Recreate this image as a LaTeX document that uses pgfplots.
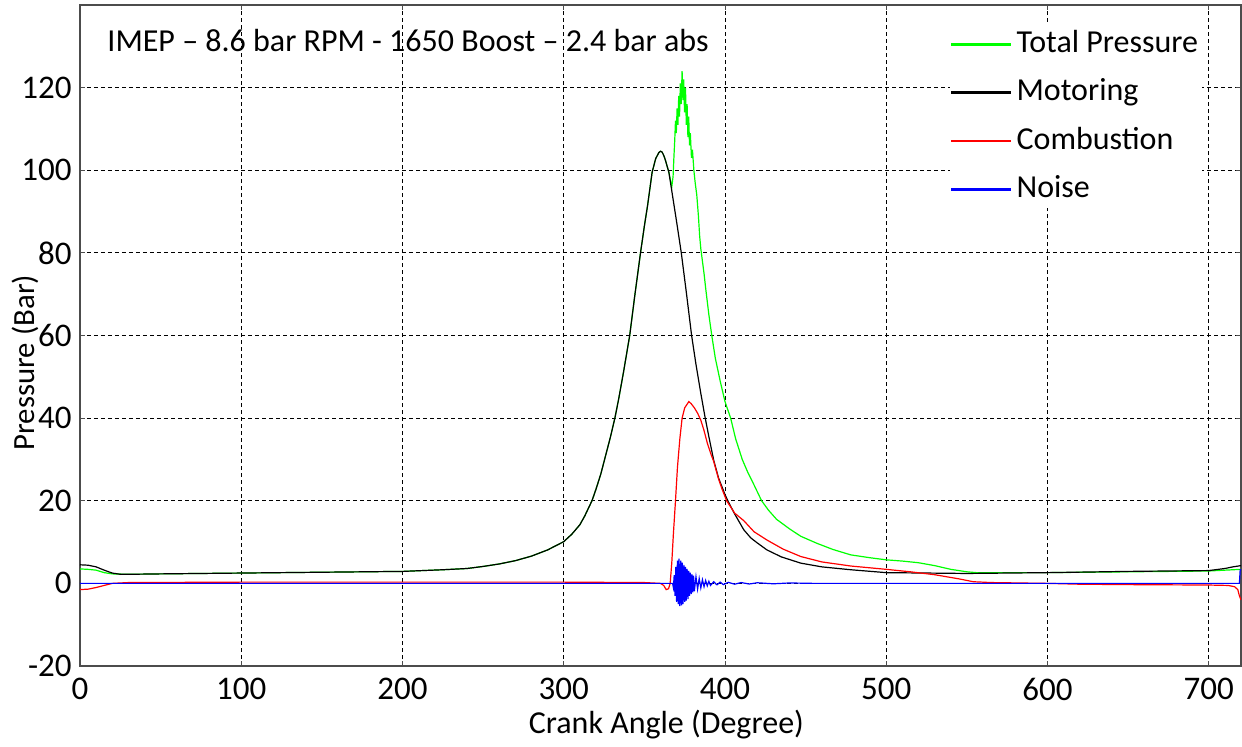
\documentclass[border=0pt]{standalone}
\usepackage{fontspec}
\setmainfont{Carlito}
\usepackage{pgfplots}
\pgfplotsset{compat=1.18}
\definecolor{tgreen}{RGB}{0,255,0}
\definecolor{tred}{RGB}{255,0,0}
\definecolor{tblue}{RGB}{0,0,255}
\begin{document}
\begin{tikzpicture}
\useasboundingbox (-40pt,-40pt) rectangle (581pt,333pt);
\begin{axis}[
  at={(0,0)}, anchor=south west,
  scale only axis, width=580.5pt, height=330.5pt,
  xmin=0, xmax=720, ymin=-20, ymax=140,
  xtick={0,100,...,700}, ytick={-20,0,...,120},
  grid=major,
  major grid style={black, line width=0.5pt, dash pattern=on 2pt off 1.5pt},
  axis line style={black!70, line width=0.6pt},
  tick align=inside, major tick length=2.5pt,
  tick style={black!70, line width=0.5pt},
  /pgf/number format/assume math mode=true,
  ticklabel style={font=\fontsize{16.5}{19}\selectfont},
  xticklabel style={inner sep=0pt, yshift=-6pt},
  yticklabel style={inner sep=0pt, xshift=-4pt},
  xlabel={Crank Angle (Degree)},
  ylabel={Pressure (Bar)},
  xlabel style={font=\fontsize{16}{18}\selectfont, at={(axis description cs:0.505,-0.0893)}, anchor=center},
  ylabel style={font=\fontsize{15.4}{18}\selectfont, at={(axis description cs:-0.0474,0.459)}, anchor=center},
  legend style={at={(axis description cs:0.749,0.970)}, anchor=north west,
    draw=none, fill=white, inner sep=0pt, row sep=5.2pt,
    font=\fontsize{16}{19}\selectfont,
    nodes={text height=11.5pt, text depth=3.5pt, inner sep=2pt}},
  legend cell align=left,
  legend image code/.code={\draw[#1,line width=1.3pt] (0pt,0pt)--(30pt,0pt);},
]
% Total pressure
\addplot[tgreen, line width=0.6pt] coordinates {
(0,3.5)(5,3.4)(10,3.2)(15,2.6)(20,2.3)(30,2.2)(50,2.3)(100,2.5)(150,2.7)(200,2.9)(225,3.3)(240,3.6)(250,4.1)(260,4.7)(270,5.5)(280,6.6)(290,8.1)(300,10.1)(305,11.9)(310,14.2)(313,16.3)(317.5,20)(320,22.8)(323,26.5)(326,31)(329,35.5)(331.7,40)(334,44.5)(337,51)(340.9,60)(344,69.5)(347.6,80)(350,86.5)(352,91.5)(354.8,99.5)(357,102.8)(359,104.3)(360,104.6)(361,104.4)(362,103.6)(363,102.5)(365.2,99.5)(367,96)(367.8,98.5)(368.3,103)(368.8,107)(369.3,112)(369.8,109)(370.3,115)(370.8,111)(371.3,118)(371.8,113)(372.3,121)(372.8,116)(373.4,124)(373.9,117)(374.4,122)(374.9,114)(375.5,120)(376,111)(376.5,116)(377,108)(377.5,113)(378,106)(378.5,109)(379.2,103)(379.8,105)(380.7,100)(381.5,97)(382.5,94)(383.5,89)(384.3,84)(385,81)(386,78)(387,75)(388,71.5)(390,65)(392,59.5)(394,54.5)(397,49)(400,44)(403.5,40)(406.6,35)(410.7,30)(414,27)(417.8,24)(422.7,20)(427,17.7)(432,15.5)(440,13.2)(447,11.4)(457,9.7)(467,8.2)(478,6.9)(490,6.2)(500,5.7)(510,5.4)(520,5.0)(530,4.3)(540,3.4)(550,2.8)(556,2.6)(600,2.6)(650,2.8)(700,3.0)(710,3.2)(720,3.4)
};
\addlegendentry{Total Pressure}
% Motoring
\addplot[black, line width=0.6pt] coordinates {
(0,4.5)(5,4.4)(10,4.0)(15,3.2)(20,2.5)(25,2.2)(30,2.2)(50,2.3)(100,2.5)(150,2.7)(200,2.9)(225,3.3)(240,3.6)(250,4.1)(260,4.7)(270,5.5)(280,6.6)(290,8.1)(300,10.1)(305,11.9)(310,14.2)(313,16.3)(317.5,20)(320,22.8)(323,26.5)(326,31)(329,35.5)(331.7,40)(334,44.5)(337,51)(340.9,60)(344,69.5)(347.6,80)(350,86.5)(352,91.5)(354.8,99.5)(357,102.8)(359,104.3)(360,104.6)(361,104.4)(362,103.6)(363,102.5)(365.2,99.5)(367,95)(370,87.5)(372.9,80)(376,70.5)(379.3,60)(382,53)(385,46)(387.5,40.5)(390,35.5)(393,29.8)(396,25.5)(400,21.5)(402,19.8)(406,16.8)(411.6,13)(416,11)(420,9.8)(426,8.1)(435,6.4)(447,4.9)(460,4.0)(478,3.3)(500,2.6)(550,2.4)(600,2.6)(650,2.9)(700,3.1)(710,3.6)(715,4.0)(720,4.3)
};
\addlegendentry{Motoring}
% Combustion
\addplot[tred, line width=0.6pt] coordinates {
(0,-1.5)(5,-1.4)(10,-1.0)(15,-0.5)(20,0)(30,0.2)(100,0.3)(200,0.3)(300,0.3)(350,0.2)(360,0)(362,-0.5)(363.5,-1.5)(365,-1.3)(366,0)(367,5)(368,12)(369.3,20)(370.5,28)(372,35)(373.4,40)(375,42.5)(377.6,44)(379,43.5)(381,42.5)(383,41.2)(385,39.5)(387,37)(389,34)(391,31.6)(393,29.5)(396,25.3)(398,23)(401,20)(406,17)(411.6,15.2)(418,12.5)(426,10.5)(436,8.3)(447,6.5)(460,5.2)(478,4.2)(500,3.4)(515,2.8)(530,2.1)(545,1.1)(554,0.4)(565,0.2)(600,0)(620,-0.2)(650,-0.3)(700,-0.4)(712,-0.5)(716,-0.8)(718,-1.5)(719,-3)(720,-4)
};
\addlegendentry{Combustion}
% Noise
\addplot[tblue, line width=0.6pt] coordinates {
(0,0)(367.5,0)(368,-1)(368.5,2)(369,-3)(369.5,4)(370,-4.5)(370.5,5.5)(371,-5)(371.5,6)(372,-5.5)(372.5,5.5)(373,-5.3)(373.5,5)(374,-5)(374.5,4.5)(375,-4.5)(375.5,4)(376,-4.2)(376.5,3.5)(377,-3.8)(377.5,3)(378,-3)(378.5,2.6)(379,-2.6)(379.5,2.2)(380,-2.2)(380.5,1.9)(381,-1.9)(382,1.6)(383,-1.4)(384,1.2)(385,-1.1)(386,0.9)(387,-0.8)(388,0.7)(389,-0.6)(390,0.5)(391,-0.5)(393,0.4)(395,-0.35)(397,0.3)(399,-0.3)(402,0.25)(406,-0.2)(410,0.2)(415,-0.15)(420,0.15)(430,-0.1)(440,0.1)(455,0)(719,0)(719.5,3.3)(720,3.3)
};
\addlegendentry{Noise}
\node[anchor=west, inner sep=0pt, font=\fontsize{16}{18}\selectfont] at (axis description cs:0.0233,0.947) {IMEP – 8.6 bar RPM - 1650 Boost – 2.4 bar abs};
\end{axis}
\end{tikzpicture}
\end{document}
